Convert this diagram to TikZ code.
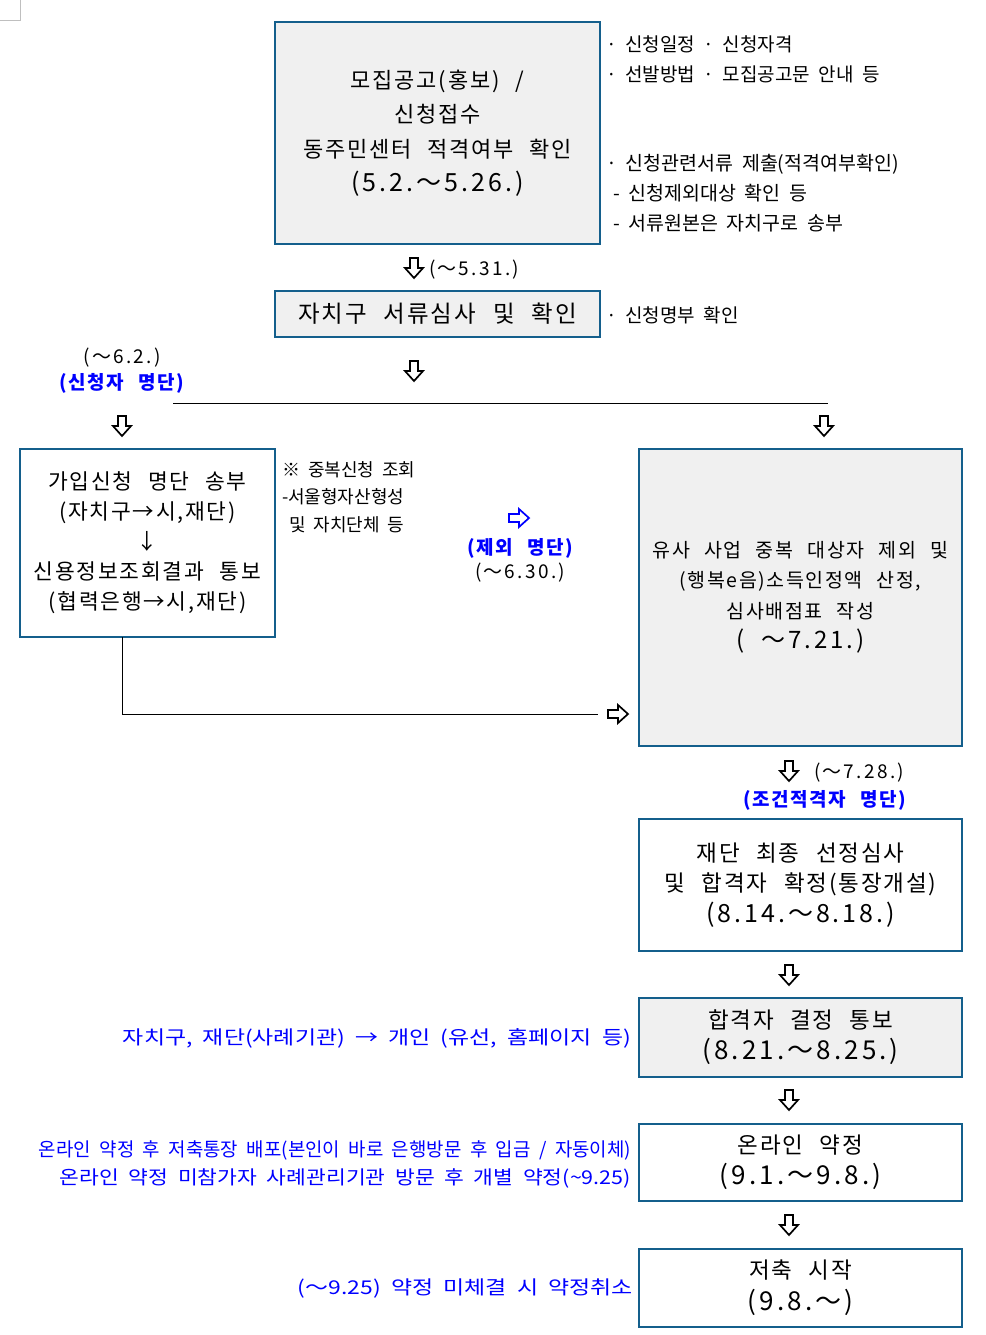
\documentclass[tikz,border=0pt]{standalone}
\usepackage{fontspec}
\usepackage{graphicx}
\setmainfont{Noto Sans CJK KR}[WordSpace=2]
\newfontfamily\widef{Noto Sans CJK KR}[WordSpace=2.4, LetterSpace=8]
\newfontfamily\datef{Noto Sans CJK KR}[WordSpace=2, LetterSpace=12]
\definecolor{bordc}{HTML}{145F8C}
\definecolor{boxfill}{HTML}{F0F0F0}
\definecolor{bluet}{HTML}{0000FF}
\newcommand\setfs[2]{\fontsize{#1}{#2}\selectfont}
\newcommand\dl[1]{{\datef\fontsize{#1}{10}\selectfont}}
\tikzset{
  every node/.style={inner sep=0pt, outer sep=0pt},
  box/.style={draw=bordc, line width=2pt, align=center},
  gbox/.style={box, fill=boxfill},
  wbox/.style={box, fill=white},
  note/.style={anchor=west, align=left, text=black},
  bluelab/.style={text=bluet, align=center, font=\widef\setfs{19}{24}\bfseries},
  datelab/.style={text=black, align=center, font=\datef\setfs{19}{24}},
  bluer/.style={text=bluet, anchor=east, font=\setfs{19}{24}},
  hol/.style={line width=1.7pt, fill=white, line join=miter},
  conn/.style={draw=black, line width=1pt},
  darr/.pic={\path[hol, draw=#1] (-4,-10) -- (4,-10) -- (4,0) -- (9,0) -- (0,10) -- (-9,0) -- (-4,0) -- cycle;},
  darr/.default=black,
  rarr/.pic={\path[hol, draw=#1] (-10,-4) -- (0,-4) -- (0,-9) -- (10,0) -- (0,9) -- (0,4) -- (-10,4) -- cycle;},
  rarr/.default=black,
}
\begin{document}
\begin{tikzpicture}[x=1pt, y=-1pt]
\useasboundingbox[fill=white] (0,0) rectangle (985,1335);
% page corner mark
\draw[black!25, line width=1pt] (20,0) -- (20,21) -- (0,21);

% boxes
\node[gbox, minimum width=325, minimum height=222, font=\widef\setfs{22}{34.5}] (b1) at (437.5,133)
  {모집공고(홍보) /\\신청접수\\동주민센터 적격여부 확인\\{\datef\fontsize{25}{34.5}\selectfont(5.2.～5.26.)}};
\node[gbox, minimum width=325, minimum height=46, font=\widef\setfs{23.5}{30}] (b2) at (437.5,314)
  {자치구 서류심사 및 확인};
\node[wbox, minimum width=255, minimum height=188, font=\widef\setfs{21.5}{30}] (b3) at (147.5,543)
  {가입신청 명단 송부\\(자치구→시,재단)\\↓\\신용정보조회결과 통보\\(협력은행→시,재단)};
\node[gbox, minimum width=323, minimum height=297, font=\widef\setfs{19.5}{30.5}] (b4) at (800.5,597.5)
  {유사 사업 중복 대상자 제외 및\\(행복e음)소득인정액 산정,\\심사배점표 작성\\{\datef\fontsize{24}{30.5}\selectfont( ～7.21.)}};
\node[wbox, minimum width=323, minimum height=132, font=\widef\setfs{22.5}{30.5}] (b5) at (800.5,885)
  {재단 최종 선정심사\\및 합격자 확정(통장개설)\\{\datef\fontsize{25}{30.5}\selectfont(8.14.～8.18.)}};
\node[gbox, minimum width=323, minimum height=79, font=\widef\setfs{22.5}{31}] (b6) at (800.5,1037.5)
  {합격자 결정 통보\\{\datef\fontsize{26}{31}\selectfont(8.21.～8.25.)}};
\node[wbox, minimum width=323, minimum height=77, font=\widef\setfs{22.5}{31}] (b7) at (800.5,1162.5)
  {온라인 약정\\{\datef\fontsize{26}{31}\selectfont(9.1.～9.8.)}};
\node[wbox, minimum width=323, minimum height=78, font=\widef\setfs{22.5}{32}] (b8) at (800.5,1288)
  {저축 시작\\{\datef\fontsize{26}{32}\selectfont(9.8.～)}};

% side notes
\node[note, font=\setfs{19}{30}] (n1) at (606,59) {· 신청일정 · 신청자격\\· 선발방법 · 모집공고문 안내 등};
\node[note, font=\setfs{19.5}{30}] (n2) at (606,193) {· 신청관련서류 제출(적격여부확인)\\\hspace*{7pt}- 신청제외대상 확인 등\\\hspace*{7pt}- 서류원본은 자치구로 송부};
\node[note, font=\setfs{19}{30}] (n3) at (606,315) {· 신청명부 확인};
\node[note, font=\setfs{18}{27.5}] (n4) at (282,497) {※ 중복신청 조회\\-서울형자산형성\\\hspace*{7pt}및 자치단체 등};

% labels
\node[datelab, anchor=west] (l1) at (429,270) {(～5.31.)};
\node[datelab] (l2) at (122,358) {(～6.2.)};
\node[bluelab] (l3) at (122,383) {(신청자 명단)};
\node[bluelab] (l4) at (520,548) {(제외 명단)};
\node[datelab] (l5) at (520,573) {(～6.30.)};
\node[datelab, anchor=west] (l6) at (814,773) {(～7.28.)};
\node[bluelab] (l7) at (825,800) {(조건적격자 명단)};

% blue comments on the left
\node[bluer] (c1) at (631,1038) {\resizebox{508pt}{\height}{자치구, 재단(사례기관) → 개인 (유선, 홈페이지 등)}};
\node[bluer] (c2) at (631,1150) {\resizebox{592pt}{\height}{온라인 약정 후 저축통장 배포(본인이 바로 은행방문 후 입금 / 자동이체)}};
\node[bluer] (c3) at (631,1178) {\resizebox{571pt}{\height}{온라인 약정 미참가자 사례관리기관 방문 후 개별 약정(\textasciitilde 9.25)}};
\node[bluer] (c4) at (633,1288) {\resizebox{335pt}{\height}{(～9.25) 약정 미체결 시 약정취소}};

% hollow arrows
\pic at (414,268) {darr};
\pic at (414,371) {darr};
\pic at (122,426) {darr};
\pic at (824,426) {darr};
\pic at (519,518) {rarr=bluet};
\pic at (618,714) {rarr};
\pic at (789,771) {darr};
\pic at (789,975) {darr};
\pic at (789,1100) {darr};
\pic at (789,1225) {darr};

% connectors
\coordinate (hl1) at (173,403);
\coordinate (hl2) at (828,403);
\draw[conn] (hl1) -- (hl2);
\coordinate (lturn) at (122,714);
\coordinate (lend) at (598,714);
\draw[conn] (lturn |- b3.south) -- (lturn) -- (lend);
\end{tikzpicture}
\end{document}
